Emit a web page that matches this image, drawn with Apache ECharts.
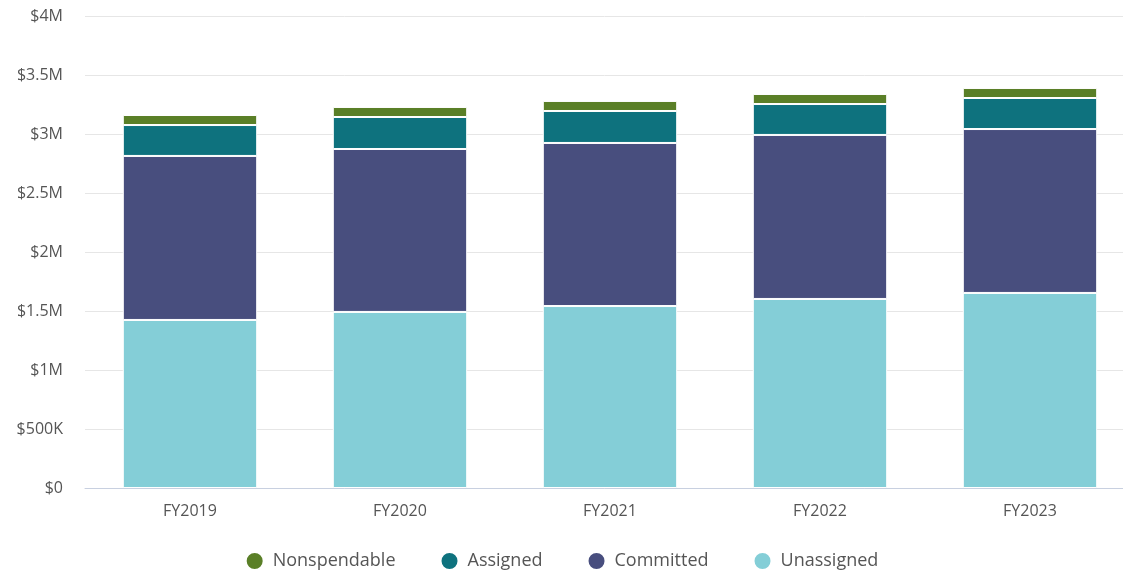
<!DOCTYPE html>
<html>
<head>
<meta charset="utf-8">
<script src="https://cdn.jsdelivr.net/npm/echarts@6/dist/echarts.min.js"></script>
<style>
  html, body { margin: 0; padding: 0; background: #fff; }
  #chart { width: 1123px; height: 574px; }
</style>
</head>
<body>
<div id="chart"></div>
<script>
const categories = ['FY2019', 'FY2020', 'FY2021', 'FY2022', 'FY2023']
const unassigned = [1424000, 1492000, 1542000, 1602000, 1653000]
const committed = [1390000, 1381000, 1382000, 1390000, 1389000]
const assigned = [262000, 271000, 271000, 262000, 263000]
const nonspendable = [85000, 85000, 85000, 85000, 85000]

const fmt = (v) => {
  if (v === 0) return '$0'
  if (v >= 1000000) return '$' + v / 1000000 + 'M'
  return '$' + v / 1000 + 'K'
}

const chart = echarts.init(document.getElementById('chart'))

const bar = (name, data, color) => ({
  name: name,
  type: 'bar',
  stack: 'total',
  data: data,
  barWidth: '64%',
  itemStyle: { color: color, borderColor: '#fff', borderWidth: 1 },
})

chart.setOption({
  animation: false,
  textStyle: { fontFamily: '"Open Sans", sans-serif' },
  grid: { left: 85, width: 1050, top: 16, bottom: 86, outerBoundsMode: 'none' },
  legend: {
    bottom: -2,
    left: 'center',
    icon: 'circle',
    itemWidth: 18,
    itemHeight: 18,
    itemGap: 44,
    textStyle: { fontSize: 18, color: '#555', padding: [0, 0, 0, 4] },
    data: ['Nonspendable', 'Assigned', 'Committed', 'Unassigned'],
  },
  xAxis: {
    type: 'category',
    data: categories,
    axisTick: { show: false },
    axisLine: { lineStyle: { color: '#c8d0e0' } },
    axisLabel: { color: '#555', fontSize: 16, margin: 15 },
  },
  yAxis: {
    type: 'value',
    min: 0,
    max: 4000000,
    interval: 500000,
    axisLabel: { color: '#555', fontSize: 16, margin: 22, formatter: fmt },
    splitLine: { lineStyle: { color: '#e6e6e6' } },
  },
  series: [
    bar('Unassigned', unassigned, '#84ced7'),
    bar('Committed', committed, '#484e7e'),
    bar('Assigned', assigned, '#0e727e'),
    bar('Nonspendable', nonspendable, '#5a7f27'),
  ],
})
</script>
</body>
</html>
